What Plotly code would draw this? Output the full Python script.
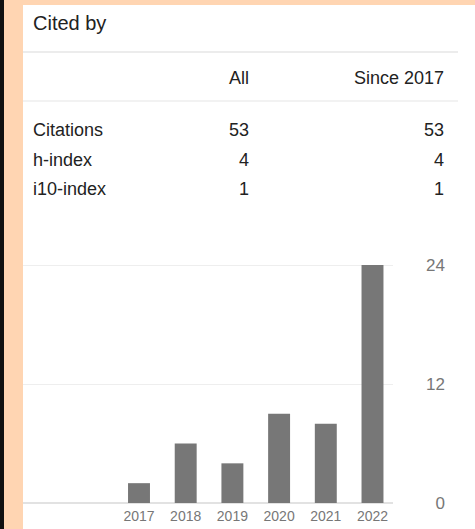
import plotly.graph_objects as go

# ---- data ----
years = [2017, 2018, 2019, 2020, 2021, 2022]
citations_per_year = [2, 6, 4, 9, 8, 24]
y_ticks = [0, 12, 24]

title_text = "Cited by"
col_headers = ["All", "Since 2017"]
row_labels = ["Citations", "h-index", "i10-index"]
values_all = [53, 4, 1]
values_since = [53, 4, 1]

# ---- layout geometry (pixels) ----
W, H = 475, 529
PL, PR, PT, PB = 23, 448, 245, 527      # plot area box (pixels)
BASE_PX, TOP_PX = 503, 265              # pixel rows of y=0 and y=24
unit = (BASE_PX - TOP_PX) / 24.0
Y_MIN = -(PB - BASE_PX) / unit
Y_MAX = 24 + (TOP_PX - PT) / unit
PW, PH = PR - PL, PB - PT


def px(xp):
    return (xp - PL) / PW


def py(yp):
    return (PB - yp) / PH


FONT = "Arial, Liberation Sans, sans-serif"
TXT = "#222222"
GRAY = "#777777"
PEACH = "#FFD5B2"

fig = go.Figure()
fig.add_trace(go.Bar(
    x=years, y=citations_per_year, yaxis="y2",
    marker=dict(color=GRAY, line=dict(width=0)),
    width=0.47, hoverinfo="x+y",
))

shapes = [
    # white card
    dict(type="rect", xref="paper", yref="paper", x0=px(23), x1=px(W + 5),
         y0=py(H + 5), y1=py(5), fillcolor="white", line=dict(width=0), layer="below"),
    # black strip at left
    dict(type="rect", xref="paper", yref="paper", x0=px(-20), x1=px(4),
         y0=py(H + 5), y1=py(-5), fillcolor="#111111", line=dict(width=0), layer="below"),
    # separators
    dict(type="line", xref="paper", yref="paper", x0=px(23), x1=px(458),
         y0=py(52), y1=py(52), line=dict(color="#e6e6e6", width=1.5)),
    dict(type="line", xref="paper", yref="paper", x0=px(23), x1=px(458),
         y0=py(101), y1=py(101), line=dict(color="#eeeeee", width=1.5)),
]

annotations = [
    dict(text=title_text, x=px(31), y=py(23), xanchor="left", yanchor="middle",
         font=dict(size=20, color=TXT, family=FONT)),
    dict(text=col_headers[0], x=px(251), y=py(78), xanchor="right", yanchor="middle",
         font=dict(size=18, color=TXT, family=FONT)),
    dict(text=col_headers[1], x=px(446), y=py(78), xanchor="right", yanchor="middle",
         font=dict(size=18, color=TXT, family=FONT)),
]
row_y = [130, 160, 189]
for lab, va, vs, yy in zip(row_labels, values_all, values_since, row_y):
    annotations.append(dict(text=lab, x=px(31), y=py(yy), xanchor="left", yanchor="middle",
                            font=dict(size=18, color=TXT, family=FONT)))
    annotations.append(dict(text=str(va), x=px(251), y=py(yy), xanchor="right", yanchor="middle",
                            font=dict(size=18, color=TXT, family=FONT)))
    annotations.append(dict(text=str(vs), x=px(446), y=py(yy), xanchor="right", yanchor="middle",
                            font=dict(size=18, color=TXT, family=FONT)))
for a in annotations:
    a.update(xref="paper", yref="paper", showarrow=False)

dom_right = (393 - PL) / PW
spacing = 46.7
x0 = 2017 - (139 - PL) / spacing
x1 = x0 + (393 - PL) / spacing

fig.update_layout(
    width=W, height=H,
    margin=dict(l=PL, r=W - PR, t=PT, b=H - PB, pad=0),
    paper_bgcolor=PEACH,
    plot_bgcolor="rgba(0,0,0,0)",
    showlegend=False,
    shapes=shapes,
    annotations=annotations,
    font=dict(family=FONT),
    xaxis=dict(domain=[0, dom_right], range=[x0, x1], tickvals=years,
               ticktext=[str(y) for y in years], showgrid=False, zeroline=False,
               showline=False, ticks="", fixedrange=True,
               anchor="free", position=py(BASE_PX), ticklabelstandoff=3,
               tickfont=dict(size=14, color=GRAY, family=FONT)),
    yaxis=dict(range=[Y_MIN, Y_MAX], visible=False, fixedrange=True),
    yaxis2=dict(range=[Y_MIN, Y_MAX], tickvals=y_ticks, overlaying="y", anchor="free",
                position=1, side="right", ticklabelposition="inside",
                showgrid=True, gridcolor="#eeeeee", gridwidth=1,
                zeroline=True, zerolinecolor="#e2e2e2", zerolinewidth=1.5,
                showline=False, ticks="",
                tickfont=dict(size=17, color=GRAY, family=FONT), fixedrange=True),
)

fig.write_html(
    "out.html",
    config={"displayModeBar": False},
    post_script="document.body.style.margin='0';"
                "document.documentElement.style.overflow='hidden';",
)
